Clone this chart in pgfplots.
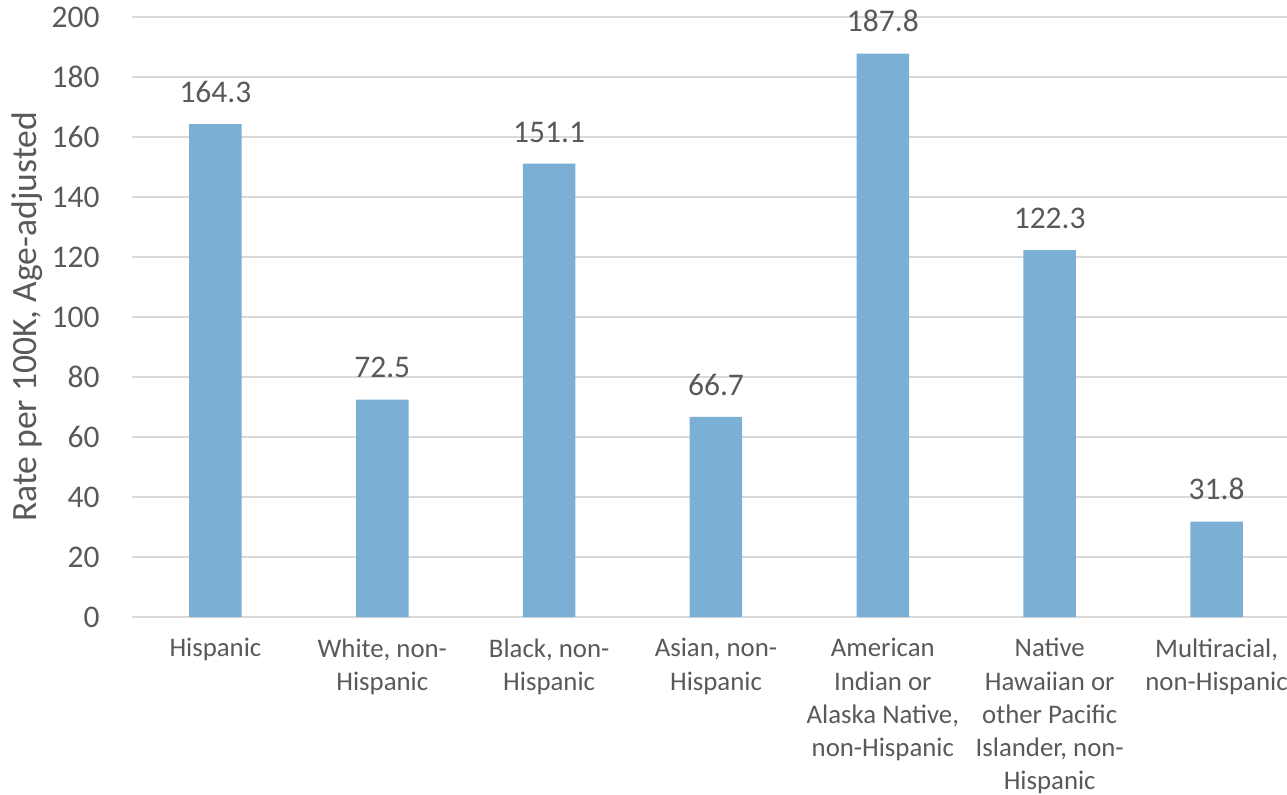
\documentclass[border=0pt]{standalone}
\usepackage{fontspec}
\setmainfont{Carlito}
\usepackage{pgfplots}
\pgfplotsset{compat=1.18}
\definecolor{barblue}{HTML}{7BAFD4}
\definecolor{txt}{HTML}{595959}
\definecolor{grd}{HTML}{D9D9D9}
\begin{document}
\begin{tikzpicture}
\begin{axis}[
  at={(0,0)}, anchor=south west,
  scale only axis, width=584pt, height=300pt,
  xmin=-0.5, xmax=6.5, ymin=0, ymax=200,
  ytick={0,20,...,200},
  xtick={0,1,2,3,4,5,6},
  xticklabels={Hispanic,{White, non-\\Hispanic},{Black, non-\\Hispanic},{Asian, non-\\Hispanic},{American\\Indian or\\Alaska Native,\\non-Hispanic},{Native\\Hawaiian or\\other Pacific\\Islander, non-\\Hispanic},{Multiracial,\\non-Hispanic}},
  axis line style={draw=none},
  ymajorgrids, grid style={grd, line width=0.75pt},
  major tick length=0pt,
  ybar, bar width=26.25pt,
  /pgf/number format/assume math mode=true,
  yticklabel style={font=\fontsize{15.75}{18}\selectfont, text=txt, inner sep=0pt, xshift=-16pt},
  xticklabel style={font=\fontsize{13.4}{16.6}\selectfont, text=txt, inner sep=0pt, align=center, anchor=north, yshift=-10.5pt},
  ylabel={Rate per 100K, Age-adjusted},
  ylabel style={at={(axis description cs:-0.09,0.5)}, rotate=0, anchor=center, font=\fontsize{17.8}{20}\selectfont, text=txt},
  nodes near coords={\pgfmathprintnumber[fixed,precision=1,fixed zerofill]{\pgfplotspointmeta}},
  every node near coord/.style={anchor=south, inner sep=0pt, yshift=10.5pt, font=\fontsize{15.75}{18}\selectfont, text=txt},
]
\addplot[fill=barblue, draw=none] coordinates {(0,164.3) (1,72.5) (2,151.1) (3,66.7) (4,187.8) (5,122.3) (6,31.8)};
\end{axis}
\pgfresetboundingbox
\useasboundingbox (-66pt,-88.5pt) rectangle (577.5pt,308.5pt);
\end{tikzpicture}
\end{document}
